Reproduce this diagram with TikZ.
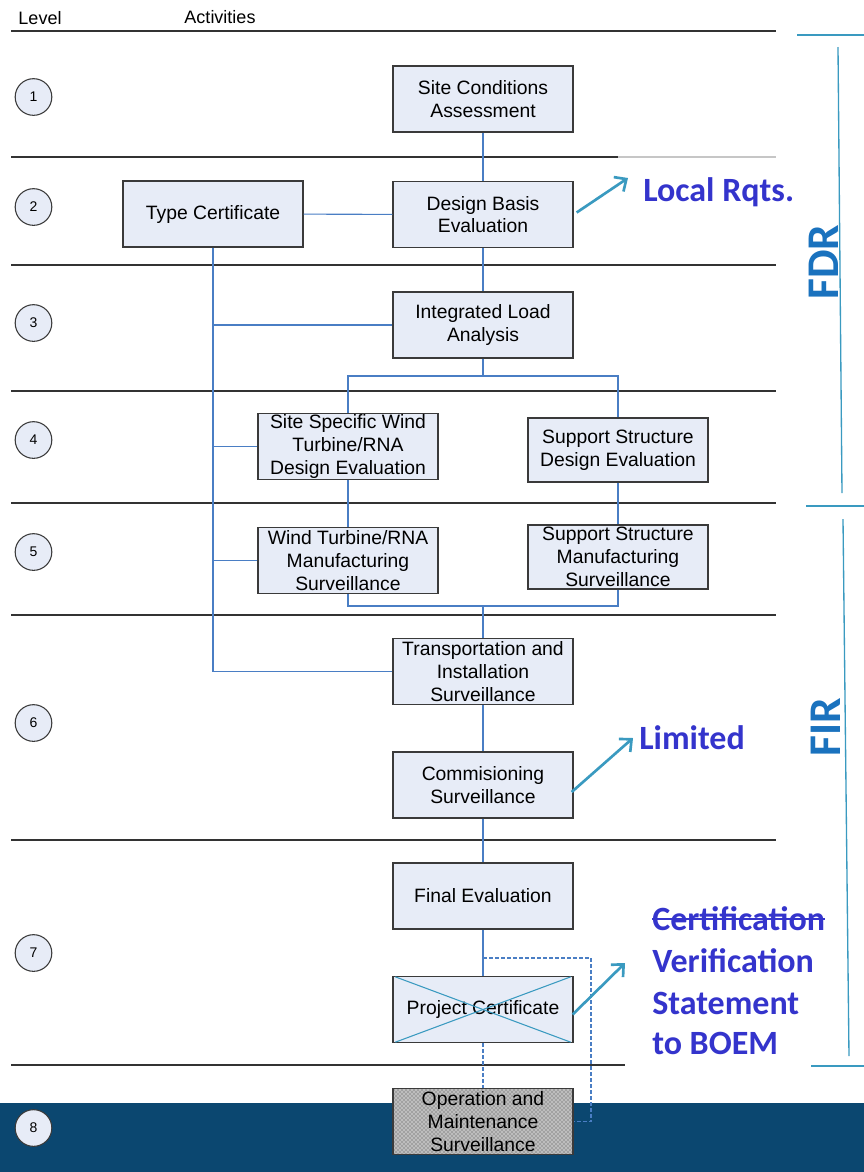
\documentclass[tikz,border=0pt]{standalone}
\usepackage{fontspec}
\setmainfont{Liberation Sans}
\newfontfamily\calib{Carlito}
\usetikzlibrary{arrows.meta,patterns}
\definecolor{boxfill}{HTML}{E7ECF7}
\definecolor{boxline}{HTML}{3A3A3A}
\definecolor{conncol}{HTML}{4A7EC4}
\definecolor{tealc}{HTML}{3A9AC0}
\definecolor{bluetxt}{HTML}{3434CC}
\definecolor{phasec}{HTML}{1A72BE}
\definecolor{bandc}{HTML}{0B4770}
\definecolor{rulec}{HTML}{333333}
\definecolor{omfill}{HTML}{BDBDBD}
\tikzset{
  box/.style={draw=boxline, line width=1pt, fill=boxfill, minimum width=135pt, minimum height=49.5pt,
    inner sep=0pt, align=center, font=\fontsize{14.5}{17}\selectfont},
  lvl/.style={circle, draw=boxline, line width=0.8pt, fill=boxfill, minimum size=27.5pt, inner sep=0pt,
    font=\fontsize{10.5}{12}\selectfont},
  conn/.style={draw=conncol, line width=0.8pt},
  dconn/.style={draw=conncol, line width=0.8pt, dash pattern=on 3pt off 1.5pt},
  rulel/.style={draw=rulec, line width=1.1pt},
  tarrow/.style={draw=tealc, line width=2pt, -{Straight Barb[length=7pt,width=13pt,line width=2pt]}},
  brk/.style={draw=tealc, line width=1pt},
  btxt/.style={text=bluetxt, font=\calib\bfseries\fontsize{25.5}{30}\selectfont, inner sep=0pt, anchor=base west},
  phase/.style={text=phasec, font=\calib\bfseries\fontsize{34}{40}\selectfont, inner sep=0pt, rotate=90},
  hdr/.style={font=\fontsize{13.5}{16}\selectfont, inner sep=0pt, anchor=base}
}
\begin{document}
\begin{tikzpicture}[x=0.75pt,y=-0.75pt]
\useasboundingbox (0,0) rectangle (864,1172);
% bottom band
\fill[bandc] (0,1103) rectangle (864,1172);
% header
\node[hdr] (hlevel) at (40,24) {Level};
\node[hdr] (hact) at (220,23) {Activities};
% horizontal rules
\draw[rulel] (11,31) -- (776,31);
\draw[rulel] (11,157) -- (618,157);
\draw[draw=gray!45, line width=1.1pt] (618,157) -- (776,157);
\draw[rulel] (11,265) -- (776,265);
\draw[rulel] (11,391) -- (776,391);
\draw[rulel] (11,503) -- (776,503);
\draw[rulel] (11,615) -- (776,615);
\draw[rulel] (11,840) -- (776,840);
\draw[rulel] (11,1065) -- (625,1065);
% level circles
\node[lvl] (l1) at (33.5,97) {1};
\node[lvl] (l2) at (33.5,207) {2};
\node[lvl] (l3) at (33.5,323) {3};
\node[lvl] (l4) at (33.5,440) {4};
\node[lvl] (l5) at (33.5,552) {5};
\node[lvl] (l6) at (33.5,723) {6};
\node[lvl] (l7) at (33.5,953) {7};
\node[lvl] (l8) at (33.5,1128) {8};
% boxes
\node[box] (sca) at (483,99) {Site Conditions\\Assessment};
\node[box] (tc) at (213,214) {Type Certificate};
\node[box] (dbe) at (483,214.5) {Design Basis\\Evaluation};
\node[box] (ila) at (483,325) {Integrated Load\\Analysis};
\node[box] (ssw) at (348,446.5) {Site Specific Wind\\Turbine/RNA\\Design Evaluation};
\node[box, minimum height=48pt] (ssde) at (618,450) {Support Structure\\Design Evaluation};
\node[box] (wtm) at (348,560.5) {Wind Turbine/RNA\\Manufacturing\\Surveillance};
\node[box, minimum height=48pt] (ssm) at (618,557) {Support Structure\\Manufacturing\\Surveillance};
\node[box] (tis) at (483,671.5) {Transportation and\\Installation\\Surveillance};
\node[box] (com) at (483,785) {Commisioning\\Surveillance};
\node[box] (fe) at (483,896) {Final Evaluation};
\node[box] (pc) at (483,1009.5) {Project Certificate};
\node[box, fill=omfill, postaction={pattern=crosshatch dots, pattern color=gray!55!black}] (om) at (483,1121.5) {Operation and\\Maintenance\\Surveillance};
% cross over project certificate
\draw[draw=tealc, line width=0.8pt] ([shift={(3,1)}]pc.north west) -- ([shift={(-3,-1)}]pc.south east);
\draw[draw=tealc, line width=0.8pt] ([shift={(3,-1)}]pc.south west) -- ([shift={(-3,1)}]pc.north east);
% connectors
\coordinate (s1) at (483,376);
\coordinate (s2) at (483,606);
\coordinate (d1) at (483,958);
\coordinate (d2) at (591,958);
\draw[conn] (sca) -- (dbe);
\draw[conn] (tc) -- (dbe);
\draw[conn] (dbe) -- (ila);
\draw[conn] (tc.south) |- (tis.west);
\draw[conn] (tc.south |- ila.west) -- (ila.west);
\draw[conn] (tc.south |- ssw.west) -- (ssw.west);
\draw[conn] (tc.south |- wtm.west) -- (wtm.west);
\draw[conn] (ila.south) -- (s1);
\draw[conn] (ssw.north) |- (s1) -| (ssde.north);
\draw[conn] (ssw) -- (wtm);
\draw[conn] (ssde) -- (ssm);
\draw[conn] (wtm.south) |- (s2) -| (ssm.south);
\draw[conn] (s2) -- (tis.north);
\draw[conn] (tis) -- (com);
\draw[conn] (com) -- (fe);
\draw[conn] (fe) -- (pc);
\draw[dconn] (d1) -- (d2) |- (om.east);
\draw[dconn] (pc.south) -- (om.north);
% teal arrows and annotations
\coordinate (a1) at (628,178);
\coordinate (a2) at (633,738);
\coordinate (a3) at (625,963);
\draw[tarrow] ([shift={(3,-2)}]dbe.east) -- (a1);
\draw[tarrow] ([shift={(-2,7)}]com.east) -- (a2);
\draw[tarrow] ([shift={(-1,5)}]pc.east) -- (a3);
\node[btxt] (t1) at (643,201) {Local Rqts.};
\node[btxt] (t2) at (639,749) {Limited};
\node[btxt] (t3) at (652,930) {Certification};
\draw[draw=bluetxt, line width=1.6pt] ([yshift=8]t3.base west) -- ([yshift=8]t3.base east);
\node[btxt] (t4) at (652,972) {Verification};
\node[btxt] (t5) at (652,1014) {Statement};
\node[btxt] (t6) at (652,1054) {to BOEM};
% phase brackets
\draw[brk] (797,35) -- (864,35);
\draw[brk] (838,47) -- (842,493);
\draw[brk] (806,506) -- (864,506);
\draw[brk] (843,519) -- (849,1056);
\draw[brk] (811,1066) -- (864,1066);
\node[phase] (fdr) at (824,262) {FDR};
\node[phase] (fir) at (826,727) {FIR};
\end{tikzpicture}
\end{document}
